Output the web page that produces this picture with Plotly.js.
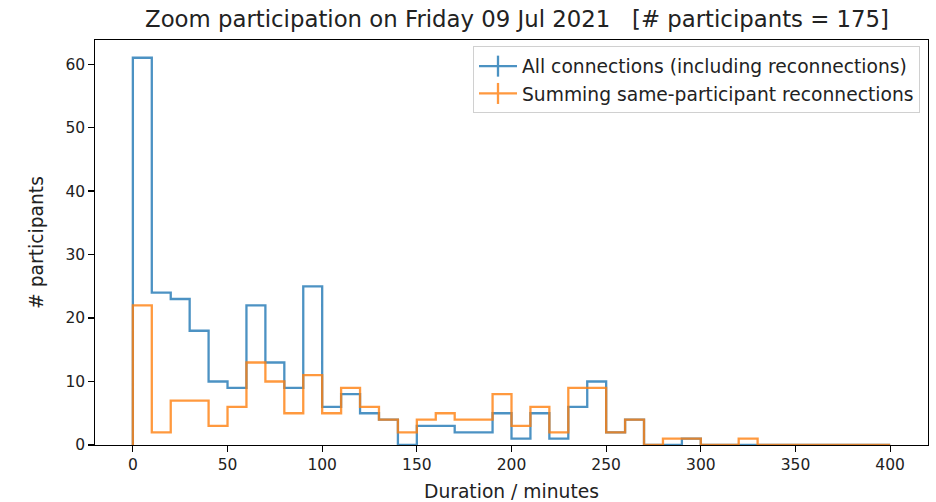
<!DOCTYPE html>
<html>
<head>
<meta charset="utf-8">
<script src="https://cdn.plot.ly/plotly-3.0.1.min.js"></script>
<style>html,body{margin:0;padding:0;background:#fff;}#chart{width:936px;height:502px;}</style>
</head>
<body>
<div id="chart"></div>
<script>
// Histogram bins: 10-minute bins from 0 to 400 minutes
const binStart = 0;
const binWidth = 10;
const allConnections = [61,24,23,18,10,9,22,13,9,25,6,8,5,4,0,3,3,2,2,5,1,5,1,6,10,2,4,0,0,1,0,0,0,0,0,0,0,0,0,0];
const summedReconnections = [22,2,7,7,3,6,13,10,5,11,5,9,6,4,2,4,5,4,4,8,3,6,2,9,9,2,4,0,1,1,0,0,1,0,0,0,0,0,0,0];
const xTicks = [0,50,100,150,200,250,300,350,400];
const yTicks = [0,10,20,30,40,50,60];
const seriesNames = ["All connections (including reconnections)", "Summing same-participant reconnections"];
const colors = ["#1f77b4", "#ff7f0e"];

function stepOutline(counts) {
  const xs = [binStart], ys = [0];
  for (let i = 0; i < counts.length; i++) {
    xs.push(binStart + i * binWidth);
    ys.push(counts[i]);
  }
  xs.push(binStart + counts.length * binWidth);
  ys.push(0);
  return {xs, ys};
}

const font = "DejaVu Sans";
const tickSize = 15.5, labelSize = 18.7, titleSize = 22.8;
const lw = 2.3;
const traces = [];
[allConnections, summedReconnections].forEach((counts, k) => {
  const s = stepOutline(counts);
  traces.push({
    type: "scatter", mode: "lines", x: s.xs, y: s.ys,
    line: {shape: "hv", color: colors[k], width: lw},
    opacity: 0.8, showlegend: false, hoverinfo: "skip"
  });
});
// legend entries (errorbar-style cross markers)
[0, 1].forEach(k => {
  traces.push({
    type: "scatter", mode: "lines+markers", x: [null], y: [null],
    name: seriesNames[k], legendgroup: "g" + k,
    line: {color: colors[k], width: lw},
    marker: {symbol: "line-ns-open", size: 15, color: colors[k], line: {color: colors[k], width: lw}},
    opacity: 0.8, showlegend: true
  });
});

const layout = {
  width: 936, height: 502,
  margin: {l: 95, r: 8, t: 39.5, b: 57, pad: 0},
  paper_bgcolor: "#fff", plot_bgcolor: "#fff",
  font: {family: font, size: tickSize, color: "#222"},
  title: {text: "Zoom participation on Friday 09 Jul 2021   [# participants = 175]",
          font: {family: font, size: titleSize, color: "#222"},
          x: 517/936, xref: "container", xanchor: "center", y: 1 - 19/502, yref: "container", yanchor: "middle"},
  xaxis: {
    range: [-20, 420], tickvals: xTicks, ticktext: xTicks.map(String),
    showgrid: false, zeroline: false, showline: true, linecolor: "#000", linewidth: 1.2, mirror: true,
    ticks: "outside", ticklen: 5.5, tickwidth: 1.2, tickcolor: "#000",
    tickfont: {family: font, size: tickSize, color: "#222"},
    title: {text: "Duration / minutes", font: {family: font, size: labelSize, color: "#222"}, standoff: 11}
  },
  yaxis: {
    range: [0, 63.8], tickvals: yTicks, ticktext: yTicks.map(String),
    showgrid: false, zeroline: false, showline: true, linecolor: "#000", linewidth: 1.2, mirror: true,
    ticks: "outside", ticklen: 5.5, tickwidth: 1.2, tickcolor: "#000",
    tickfont: {family: font, size: tickSize, color: "#222"},
    title: {text: "# participants", font: {family: font, size: labelSize, color: "#222"}, standoff: 17}
  },
  legend: {
    x: (920 - 95) / 833, y: (445 - 46) / 405.5, xanchor: "right", yanchor: "top",
    bgcolor: "rgba(255,255,255,0.8)", bordercolor: "#d0d0d0", borderwidth: 1,
    font: {family: font, size: labelSize, color: "#222"}, tracegroupgap: 0, itemwidth: 38
  },
  showlegend: true
};

Plotly.newPlot("chart", traces, layout, {staticPlot: true, displayModeBar: false});
</script>
</body>
</html>
